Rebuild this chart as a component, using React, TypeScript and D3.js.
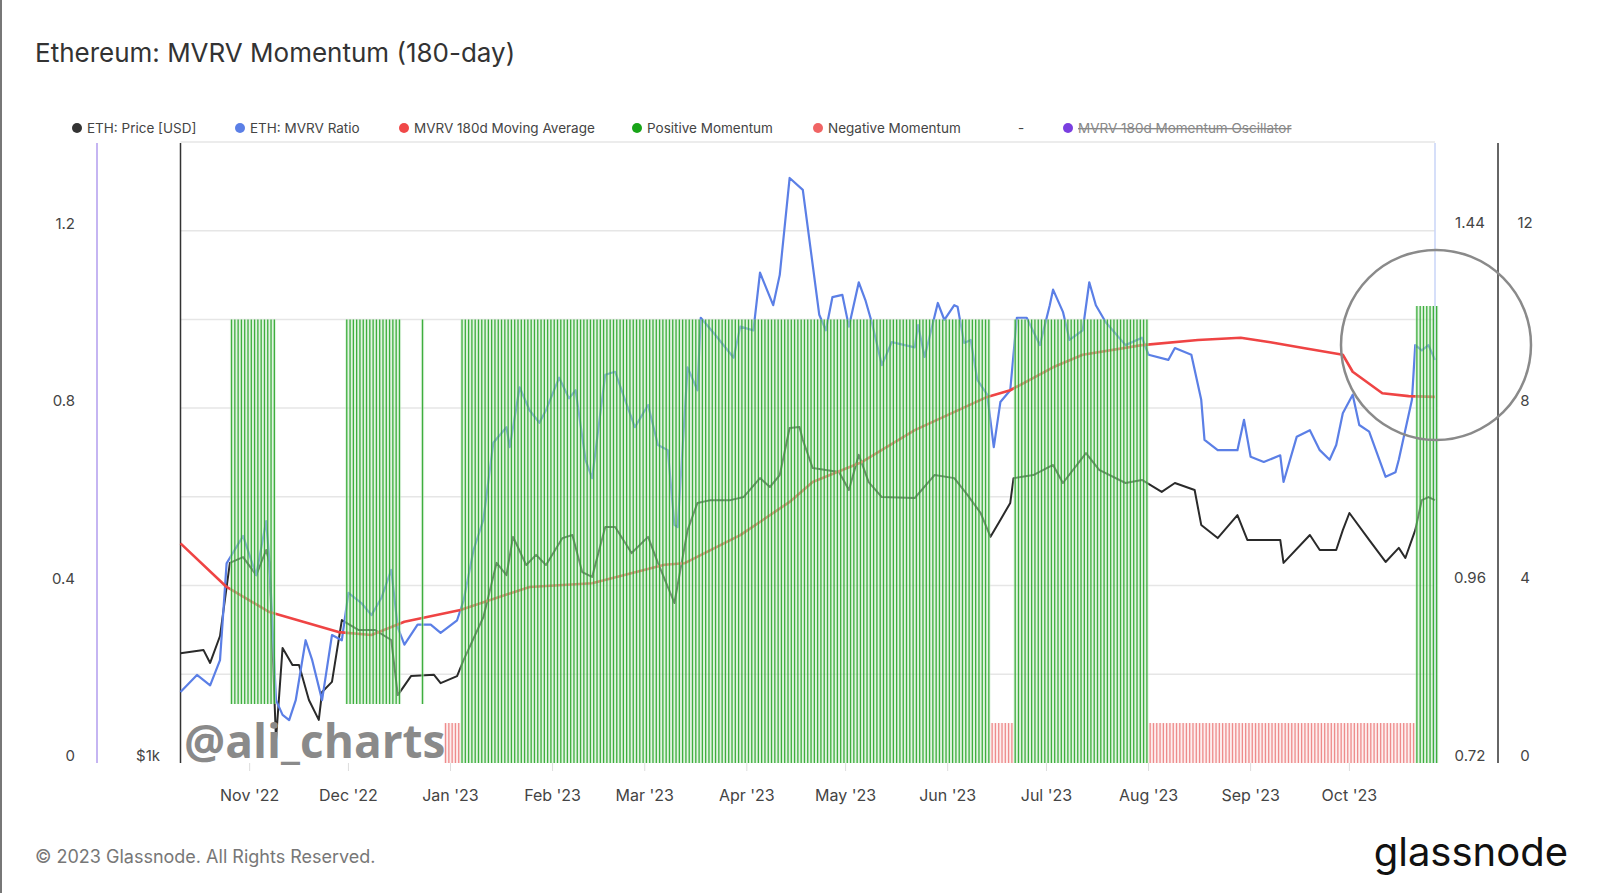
import React from "react";
import * as d3 from "d3";

const START = new Date(2022, 9, 11);
const END = new Date(2023, 9, 27);

// ETH: MVRV Ratio  (day offset from 2022-10-11, value)
const mvrvDay = [0,5,9,12,14,19,23,26,27,29,31,33,35,38,40,43,46,49,51,55,58,61,64,66,68,72,76,79,84,86,89,92,95,99,100,103,106,109,111,115,118,120,123,125,129,132,135,138,142,145,148,150,151,154,157,158,162,168,170,174,176,180,182,185,189,194,196,198,201,203,206,208,210,213,216,223,224,226,230,232,235,236,238,240,242,245,247,249,252,254,257,261,264,265,268,270,274,276,278,281,287,292,294,300,302,307,310,311,315,321,323,325,329,334,335,339,343,346,349,351,353,356,358,361,366,369,370,374,375,377,379,381];
const mvrvVal = [0.816,0.839,0.825,0.859,0.99,1.027,0.974,1.047,0.994,0.805,0.785,0.778,0.805,0.886,0.859,0.805,0.893,0.886,0.95,0.936,0.92,0.943,0.981,0.903,0.88,0.907,0.907,0.896,0.913,0.94,1.008,1.049,1.153,1.174,1.147,1.228,1.197,1.18,1.197,1.241,1.213,1.224,1.13,1.105,1.245,1.249,1.211,1.174,1.204,1.15,1.143,1.042,1.039,1.255,1.224,1.322,1.301,1.268,1.31,1.305,1.383,1.339,1.38,1.511,1.495,1.326,1.305,1.35,1.353,1.31,1.37,1.346,1.315,1.258,1.289,1.282,1.312,1.269,1.342,1.319,1.339,1.337,1.288,1.292,1.238,1.218,1.147,1.208,1.224,1.322,1.322,1.285,1.339,1.36,1.33,1.292,1.305,1.37,1.339,1.316,1.285,1.295,1.272,1.265,1.281,1.272,1.211,1.157,1.143,1.143,1.184,1.134,1.127,1.136,1.1,1.161,1.17,1.143,1.13,1.15,1.193,1.218,1.177,1.168,1.107,1.113,1.13,1.211,1.285,1.278,1.285,1.265];

// MVRV 180d Moving Average
const maDay = [0,14,27,48,58,68,85,106,125,147,153,170,185,192,207,223,245,252,265,274,292,309,322,331,341,353,356,365,373,381];
const maVal = [1.017,0.958,0.924,0.897,0.893,0.911,0.927,0.958,0.963,0.988,0.99,1.028,1.073,1.1,1.127,1.17,1.215,1.224,1.255,1.272,1.285,1.292,1.295,1.289,1.281,1.272,1.249,1.22,1.216,1.215];

// ETH: Price [USD]
const priceDay = [0,7,9,12,15,19,23,26,27,29,31,34,36,39,42,43,46,49,54,59,64,66,70,77,79,84,86,92,96,99,101,105,108,111,116,119,122,125,129,132,137,142,145,150,154,157,161,167,171,176,179,182,185,188,189,192,200,203,206,209,213,223,229,235,239,243,246,249,252,253,259,265,268,275,279,287,292,298,302,308,310,315,321,324,334,335,343,346,351,353,355,361,366,370,372,375,377,379,381];
const priceVal = [1359,1369,1327,1415,1654,1673,1614,1696,1657,1075,1376,1320,1320,1206,1141,1232,1265,1467,1435,1435,1402,1222,1284,1288,1261,1284,1337,1477,1654,1614,1739,1647,1680,1647,1735,1745,1624,1608,1771,1771,1686,1739,1654,1523,1761,1850,1859,1859,1869,1931,1902,1941,2095,2098,2056,1964,1951,1892,2007,1918,1869,1866,1941,1931,1876,1817,1739,1794,1850,1931,1941,1974,1915,2013,1958,1915,1925,1886,1915,1892,1778,1735,1810,1729,1729,1654,1745,1696,1696,1761,1817,1729,1657,1703,1670,1761,1859,1869,1859];

// Momentum periods: [firstDay, lastDay, base, top]
const positiveMomentum = [[15,28,0.133,1],[50,66,0.133,1],[73,73,0.133,1],[85,245,0,1],[253,293,0,1],[375,381,0,1.03]];
const negativeMomentum = [[80,84,0,0.09],[246,252,0,0.09],[294,374,0,0.09]];

const xTicks = ["2022-11-01","2022-12-01","2023-01-01","2023-02-01","2023-03-01","2023-04-01","2023-05-01","2023-06-01","2023-07-01","2023-08-01","2023-09-01","2023-10-01"];
const leftTicks = [0, 0.4, 0.8, 1.2];
const mvrvTicks = [0.72, 0.96, 1.44];
const oscTicks = [0, 4, 8, 12];
const gridVals = [0.2, 0.4, 0.6, 0.8, 1.0, 1.2, 1.4];

const legend = [
  { label: "ETH: Price [USD]", color: "#333333", x: 77 },
  { label: "ETH: MVRV Ratio", color: "#5b7fe6", x: 240 },
  { label: "MVRV 180d Moving Average", color: "#f04848", x: 404 },
  { label: "Positive Momentum", color: "#18a418", x: 637 },
  { label: "Negative Momentum", color: "#f06464", x: 818 },
];

const L = 180.5, R = 1435, T = 143, B = 763;

export default function App() {
  const day = (d: number) => d3.timeDay.offset(START, d);
  const x = d3.scaleTime().domain([START, END]).range([L, R]);
  const yLeft = d3.scaleLinear().domain([0, 1.4]).range([B, B - 1.4 * 443.6]);
  const yMvrv = d3.scaleLinear().domain([0.72, 1.44]).range([B, B - 0.72 * 739.6]);
  const yOsc = d3.scaleLinear().domain([0, 12]).range([B, B - 0.72 * 739.6]);
  const yPrice = d3.scaleLinear().domain([1000, 2000]).range([B, B - 306]);
  const pxDay = x(day(1)) - x(day(0));

  const line = (ds: number[], vs: number[], y: (v: number) => number) =>
    d3.line<number>().x((_, i) => x(day(ds[i]))).y((v) => y(v)).curve(d3.curveLinear)(vs) || "";

  const bars: JSX.Element[] = [];
  const addBars = (periods: number[][], fill: string, stroke: string, key: string) => {
    periods.forEach(([a, b, lo, hi], pi) => {
      for (let d = a; d <= b; d++) {
        const cx = x(day(d)) + pxDay / 2;
        bars.push(
          <g key={`${key}${pi}-${d}`}>
            <rect x={cx - pxDay / 2} y={yLeft(hi)} width={pxDay} height={yLeft(lo) - yLeft(hi)} fill={fill} opacity={0.55} />
            <line x1={cx} x2={cx} y1={yLeft(hi)} y2={yLeft(lo)} stroke={stroke} strokeWidth={1.3} opacity={0.85} />
          </g>
        );
      }
    });
  };
  addBars(positiveMomentum, "#c4eac4", "#22a322", "p");
  addBars(negativeMomentum, "#fbdede", "#ec7b7b", "n");

  const font = "Inter, 'Noto Sans', sans-serif";

  return (
    <svg width={1600} height={893} style={{ position: "absolute", left: 0, top: 0, background: "#fff" }} fontFamily={font}>
      <rect width={1600} height={893} fill="#fff" />
      <line x1={1} x2={1} y1={0} y2={893} stroke="#777" strokeWidth={2} />
      <text x={35} y={62} fontSize={26} fill="#333" fontWeight={400}>Ethereum: MVRV Momentum (180-day)</text>

      {legend.map((l) => (
        <g key={l.label}>
          <circle cx={l.x} cy={128} r={5} fill={l.color} />
          <text x={l.x + 10} y={133} fontSize={13.5} fill="#444">{l.label}</text>
        </g>
      ))}
      <text x={1018} y={133} fontSize={13.5} fill="#444">-</text>
      <circle cx={1068} cy={128} r={5} fill="#7a3fe0" />
      <text x={1078} y={133} fontSize={13.5} fill="#888" textDecoration="line-through">MVRV 180d Momentum Oscillator</text>

      {gridVals.map((g) => (
        <line key={g} x1={L} x2={R} y1={yLeft(g)} y2={yLeft(g)} stroke="#e6e6e6" strokeWidth={1.5} />
      ))}

      <line x1={97} x2={97} y1={T} y2={B} stroke="#c5b5f2" strokeWidth={2} />
      <line x1={L} x2={L} y1={T} y2={B} stroke="#333" strokeWidth={1.5} />
      <line x1={R} x2={R} y1={T} y2={B} stroke="#c9d5f7" strokeWidth={1.5} />
      <line x1={1498} x2={1498} y1={T} y2={B} stroke="#333" strokeWidth={1.5} />

      {leftTicks.map((t) => (
        <text key={t} x={75} y={yLeft(t) - 2} fontSize={15} fill="#444" textAnchor="end">{t === 0 ? "0" : t.toFixed(1)}</text>
      ))}
      <text x={160} y={yLeft(0) - 2} fontSize={15} fill="#444" textAnchor="end">$1k</text>
      {mvrvTicks.map((t) => (
        <text key={t} x={1470} y={yMvrv(t) - 2} fontSize={15} fill="#444" textAnchor="middle">{t.toFixed(2)}</text>
      ))}
      {oscTicks.map((t) => (
        <text key={t} x={1525} y={yOsc(t) - 2} fontSize={15} fill="#444" textAnchor="middle">{t}</text>
      ))}

      {xTicks.map((s) => {
        const d = new Date(s + "T00:00:00");
        return (
          <g key={s}>
            <line x1={x(d)} x2={x(d)} y1={B} y2={B + 8} stroke="#ddd" />
            <text x={x(d)} y={801} fontSize={16} fill="#444" textAnchor="middle">{d3.timeFormat("%b '%y")(d)}</text>
          </g>
        );
      })}

      <path d={line(priceDay, priceVal, yPrice)} fill="none" stroke="#2a2a2a" strokeWidth={2} strokeLinejoin="round" />
      <path d={line(mvrvDay, mvrvVal, yMvrv)} fill="none" stroke="#5b7fe6" strokeWidth={2.2} strokeLinejoin="round" />
      <path d={line(maDay, maVal, yMvrv)} fill="none" stroke="#ef4444" strokeWidth={2.6} strokeLinejoin="round" />

      <g>{bars}</g>

      <text x={184} y={758} fontSize={46} fontWeight={700} fill="#8a8a8a" fontFamily="'Open Sans', Inter, sans-serif">@ali_charts</text>

      <circle cx={1436} cy={345} r={95} fill="none" stroke="#8a8a8a" strokeWidth={2.5} />

      <text x={35} y={863} fontSize={18} fill="#777">© 2023 Glassnode. All Rights Reserved.</text>
      <text x={1568} y={866} fontSize={40} fontWeight={400} fill="#111" textAnchor="end">glassnode</text>
    </svg>
  );
}
